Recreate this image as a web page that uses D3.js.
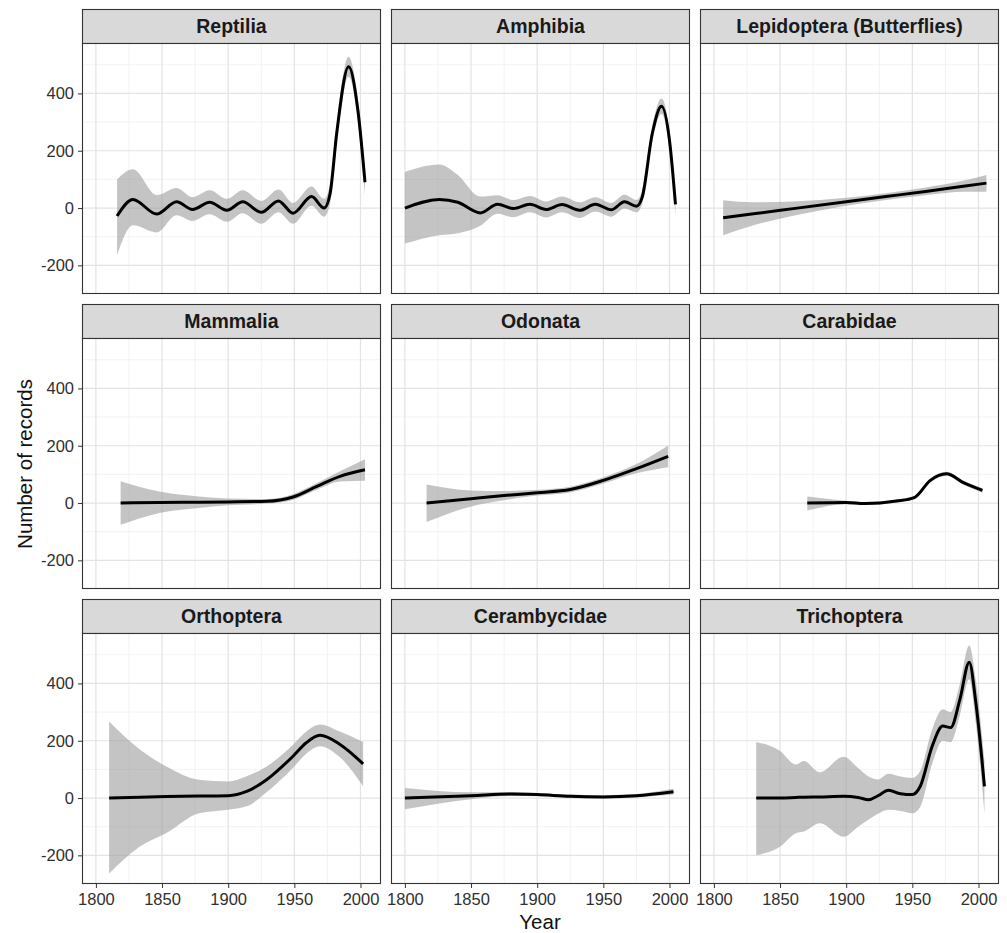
<!DOCTYPE html>
<html>
<head>
<meta charset="utf-8">
<script src="https://cdn.jsdelivr.net/npm/d3@7"></script>
<style>
  body { margin: 0; background: #fff; }
  svg { display: block; font-family: "Liberation Sans", Arial, sans-serif; }
</style>
</head>
<body>
<svg id="chart" width="1007" height="933"></svg>
<script>
// each row: year, fitted value, lower band, upper band
var reptilia = [
  [1816, -28, -165, 100], [1828, 30, -60, 135], [1846, -21, -85, 45],
  [1861, 22, -25, 70], [1873, -5, -45, 38], [1886, 20, -22, 62],
  [1899, -8, -48, 32], [1911, 22, -18, 62], [1925, -15, -55, 25],
  [1938, 25, -15, 65], [1949, -18, -55, 18], [1963, 40, 8, 75],
  [1972.5, 0, -30, 32], [1977, 50, 15, 85], [1982, 260, 225, 295],
  [1991, 493, 458, 528], [1998, 342, 305, 380], [2003.4, 90, 45, 135]
];
var amphibia = [
  [1800, 0, -124, 126], [1826, 30, -95, 152], [1840, 20, -88, 115],
  [1857, -17, -62, 40], [1870, 13, -20, 45], [1882, -2, -32, 28],
  [1894.5, 13, -15, 42], [1906.7, -5, -33, 23], [1918.8, 12, -15, 40],
  [1932, -8, -35, 20], [1944, 13, -12, 38], [1956, -6, -30, 18],
  [1966, 22, -2, 46], [1975, 6, -15, 28], [1979.4, 38, 15, 62],
  [1987, 260, 235, 285], [1994, 355, 328, 382], [2000, 236, 205, 267],
  [2004.5, 13, -25, 50]
];
var lepidoptera = [
  [1807, -34, -95, 27], [1830, -20, -60, 20], [1860, -2, -27, 23],
  [1900, 22, 8, 36], [1930, 40, 28, 52], [1960, 58, 45, 72],
  [1990, 77, 57, 97], [2006, 87, 57, 115]
];
var mammalia = [
  [1818.7, 0, -76, 76], [1848, 2, -35, 40], [1878, 3, -17, 23],
  [1900, 4, -8, 16], [1929, 6, -2, 14], [1949, 21, 11, 31],
  [1967, 58, 46, 70], [1984.5, 93, 75, 111], [2003.4, 116, 78, 153]
];
var odonata = [
  [1816.4, 0, -66, 65], [1850, 15, -12, 44], [1875, 26, 10, 42],
  [1900, 36, 26, 46], [1925, 47, 37, 57], [1950, 79, 68, 90],
  [1975, 120, 104, 136], [1999, 163, 125, 201]
];
var carabidae = [
  [1870.6, 0, -26, 23], [1900, 2, -4, 8], [1914, -2, -7, 3],
  [1938, 7, 2, 12], [1951.5, 19, 13, 25], [1963.6, 79, 72, 86],
  [1975.8, 102, 95, 109], [1989, 70, 63, 77], [2003, 44, 36, 52]
];
var orthoptera = [
  [1810, 0, -263, 267], [1833, 3, -170, 170], [1853, 5, -123, 111],
  [1878, 7, -53, 64], [1900, 8, -41, 58], [1914, 23, -29, 76],
  [1929, 64, 20, 110], [1949, 146, 106, 186], [1959, 193, 155, 232],
  [1969.4, 219, 181, 257], [1984.5, 187, 142, 232], [2002, 119, 41, 196]
];
var cerambycidae = [
  [1800, 0, -39, 35], [1850, 8, -4, 20], [1881, 14, 7, 21],
  [1900, 12, 6, 18], [1925, 6, 0, 12], [1950, 4, -2, 10],
  [1975, 8, 2, 14], [2003, 22, 12, 32]
];
var trichoptera = [
  [1832, 0, -199, 196], [1850, 0, -170, 164], [1862, 2, -123, 117],
  [1868, 3, -117, 129], [1880, 4, -88, 90], [1898, 6, -135, 144],
  [1909, 2, -100, 105], [1917, -6, -75, 75], [1924, 8, -55, 65],
  [1932, 27, -41, 85], [1941, 15, -45, 75], [1950, 12, -53, 70],
  [1956, 41, -30, 95], [1965, 181, 120, 240], [1973, 251, 200, 310],
  [1979, 246, 195, 300], [1986, 345, 290, 400], [1993, 474, 415, 532],
  [1998, 333, 260, 410], [2004.5, 41, -53, 130]
];

var titles = ["Reptilia", "Amphibia", "Lepidoptera (Butterflies)",
              "Mammalia", "Odonata", "Carabidae",
              "Orthoptera", "Cerambycidae", "Trichoptera"];
var series = [reptilia, amphibia, lepidoptera,
              mammalia, odonata, carabidae,
              orthoptera, cerambycidae, trichoptera];

var xTicks = [1800, 1850, 1900, 1950, 2000];
var xMinor = [1825, 1875, 1925, 1975];
var yTicks = [-200, 0, 200, 400];
var yMinor = [-100, 100, 300, 500];

var svg = d3.select("#chart");

var colX = [82, 391, 700];
var rowY = [9, 304, 599];
var pw = 299, ph = 251, sh = 34;

var x = d3.scaleLinear().domain([1789.5, 2015.5]).range([0, pw]);
var y = d3.scaleLinear().domain([-300, 576]).range([ph, 0]);

var line = d3.line()
    .x(function(d){ return x(d[0]); })
    .y(function(d){ return y(d[1]); })
    .curve(d3.curveMonotoneX);

var band = d3.area()
    .x(function(d){ return x(d[0]); })
    .y0(function(d){ return y(d[2]); })
    .y1(function(d){ return y(d[3]); })
    .curve(d3.curveMonotoneX);

// plain hyphen for negatives, like the original
var plain = function(d){ return String(d); };

series.forEach(function(data, i){
    var col = i % 3, row = Math.floor(i / 3);
    var g = svg.append("g")
            .attr("transform", "translate(" + colX[col] + "," + rowY[row] + ")");

    // strip
    g.append("rect")
            .attr("x", 0.5).attr("y", 0.5)
            .attr("width", pw - 1).attr("height", sh)
            .attr("fill", "#d9d9d9")
            .attr("stroke", "#333")
            .attr("stroke-width", 1.1);
    g.append("text")
            .attr("x", pw / 2)
            .attr("y", sh / 2)
            .attr("dy", "0.36em")
            .attr("text-anchor", "middle")
            .attr("font-size", "19.5px")
            .attr("font-weight", "bold")
            .attr("fill", "#1a1a1a")
            .text(titles[i]);

    var p = g.append("g").attr("transform", "translate(0," + sh + ")");

    p.append("rect")
            .attr("width", pw).attr("height", ph)
            .attr("fill", "#fff");

    p.selectAll(".gminor-x").data(xMinor).enter().append("line")
            .attr("x1", x).attr("x2", x).attr("y1", 0).attr("y2", ph)
            .attr("stroke", "#ececec").attr("stroke-width", 0.7);
    p.selectAll(".gminor-y").data(yMinor).enter().append("line")
            .attr("y1", y).attr("y2", y).attr("x1", 0).attr("x2", pw)
            .attr("stroke", "#ececec").attr("stroke-width", 0.7);
    p.selectAll(".gmajor-x").data(xTicks).enter().append("line")
            .attr("x1", x).attr("x2", x).attr("y1", 0).attr("y2", ph)
            .attr("stroke", "#e3e3e3").attr("stroke-width", 1.2);
    p.selectAll(".gmajor-y").data(yTicks).enter().append("line")
            .attr("y1", y).attr("y2", y).attr("x1", 0).attr("x2", pw)
            .attr("stroke", "#e3e3e3").attr("stroke-width", 1.2);

    p.append("path").datum(data)
            .attr("d", band)
            .attr("fill", "#999999")
            .attr("fill-opacity", 0.58);

    p.append("path").datum(data)
            .attr("d", line)
            .attr("fill", "none")
            .attr("stroke", "#000")
            .attr("stroke-width", 3)
            .attr("stroke-linejoin", "round");

    p.append("rect")
            .attr("x", 0.5).attr("y", 0.5)
            .attr("width", pw - 1).attr("height", ph - 1)
            .attr("fill", "none")
            .attr("stroke", "#333")
            .attr("stroke-width", 1.1);

    if (col === 0) {
        var ya = p.append("g")
                .call(d3.axisLeft(y).tickValues(yTicks).tickFormat(plain).tickSize(4).tickPadding(4));
        ya.select(".domain").remove();
        ya.selectAll("line").attr("stroke", "#333");
        ya.selectAll("text")
                .attr("font-family", "Liberation Sans, Arial, sans-serif")
                .attr("font-size", "16.5px")
                .attr("fill", "#303030");
    }
    if (row === 2) {
        var xa = p.append("g")
                .attr("transform", "translate(0," + ph + ")")
                .call(d3.axisBottom(x).tickValues(xTicks).tickFormat(plain).tickSize(4).tickPadding(5));
        xa.select(".domain").remove();
        xa.selectAll("line").attr("stroke", "#333");
        xa.selectAll("text")
                .attr("font-family", "Liberation Sans, Arial, sans-serif")
                .attr("font-size", "16.5px")
                .attr("fill", "#303030");
    }
});

svg.append("text")
        .attr("transform", "translate(25,464) rotate(-90)")
        .attr("text-anchor", "middle")
        .attr("dy", "0.36em")
        .attr("font-size", "20.5px")
        .attr("fill", "#111")
        .text("Number of records");

svg.append("text")
        .attr("x", 540)
        .attr("y", 922)
        .attr("dy", "0.36em")
        .attr("text-anchor", "middle")
        .attr("font-size", "20.5px")
        .attr("fill", "#111")
        .text("Year");
</script>
</body>
</html>
